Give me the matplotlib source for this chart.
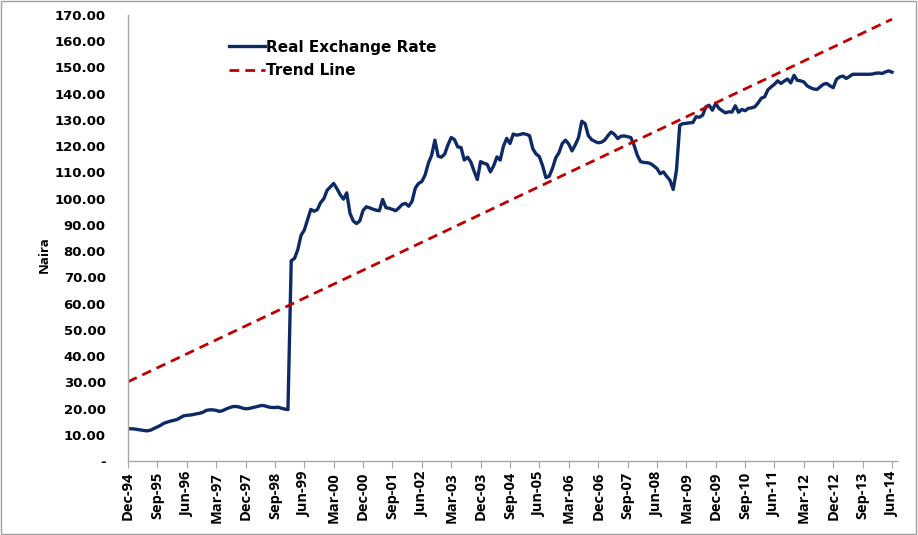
import matplotlib
matplotlib.use("Agg")
import matplotlib.pyplot as plt
from matplotlib.patches import Rectangle

# monthly real exchange rate, Dec-94 .. Jun-14 (naira)
real_rate = [
    12.3, 12.3, 12.2, 12.0, 11.8, 11.6, 11.5, 11.8, 12.4, 13.0,
    13.6, 14.4, 14.8, 15.2, 15.5, 15.8, 16.5, 17.2, 17.4, 17.5,
    17.7, 18.0, 18.2, 18.6, 19.3, 19.5, 19.5, 19.3, 18.9, 19.2,
    19.8, 20.3, 20.7, 20.8, 20.6, 20.2, 19.9, 20.0, 20.3, 20.6,
    20.9, 21.2, 21.0, 20.6, 20.4, 20.4, 20.5, 20.1, 19.8, 19.6,
    76.3, 77.2, 80.5, 86.0, 88.0, 92.0, 95.9, 95.2, 95.8, 98.5,
    100.0, 103.2, 104.5, 105.8, 103.8, 101.5, 99.8, 102.2, 94.4, 91.5,
    90.5, 91.5, 95.5, 96.9, 96.5, 96.0, 95.6, 95.4, 99.7, 96.6,
    96.3, 95.9, 95.4, 96.5, 97.8, 98.2, 97.1, 99.0, 104.0, 105.8,
    106.5, 109.0, 113.5, 116.5, 122.3, 116.2, 115.8, 117.0, 120.5, 123.3,
    122.5, 119.7, 119.5, 114.7, 115.8, 114.0, 110.5, 107.3, 114.1, 113.5,
    113.1, 110.2, 112.5, 115.9, 114.7, 120.0, 123.0, 121.0, 124.6, 124.2,
    124.4, 124.8, 124.5, 124.0, 119.0, 117.0, 116.0, 112.5, 108.0, 108.5,
    111.5, 115.5, 117.5, 121.0, 122.3, 120.8, 118.2, 120.5, 123.3, 129.5,
    128.6, 124.0, 122.5, 121.8, 121.3, 121.5, 122.3, 124.0, 125.4, 124.5,
    122.9, 123.8, 123.9, 123.6, 123.3, 120.4, 116.5, 114.1, 113.8, 113.7,
    113.4, 112.5, 111.5, 109.5, 110.2, 108.5, 107.0, 103.5, 110.9, 128.0,
    128.6, 128.7, 128.9, 129.0, 131.2, 131.0, 131.8, 135.0, 135.6, 133.7,
    136.3, 134.4, 133.5, 132.7, 133.1, 133.0, 135.4, 132.9, 134.0, 133.5,
    134.4, 134.6, 135.0, 136.5, 138.3, 138.8, 141.5, 142.6, 143.6, 144.9,
    143.9, 144.8, 145.6, 144.1, 147.0, 145.1, 144.9, 144.5, 143.0, 142.3,
    141.8, 141.6, 142.6, 143.6, 143.9, 143.0, 142.3, 145.5, 146.4, 146.7,
    145.8, 146.6, 147.4, 147.4, 147.4, 147.4, 147.4, 147.4, 147.5, 147.8,
    147.9, 147.7, 148.3, 148.7, 148.2,
]

# linear trend, value at first and last month
trend_ends = [30.2, 168.4]

month_names = ["Jan", "Feb", "Mar", "Apr", "May", "Jun",
               "Jul", "Aug", "Sep", "Oct", "Nov", "Dec"]
start_year, start_month = 1994, 12

y_ticks = list(range(0, 171, 10))


def month_label(i):
    m = start_month - 1 + i
    year = start_year + m // 12
    return f"{month_names[m % 12]}-{year % 100:02d}"


n = len(real_rate)
x = list(range(n))

fig = plt.figure(figsize=(9.18, 5.35), dpi=100)
ax = fig.add_axes([0.1394, 0.1383, 0.8376, 0.8337])

ax.plot(x, real_rate, color="#0E2A66", lw=2.4, label="Real Exchange Rate",
        solid_joinstyle="round")
ax.plot([0, n - 1], trend_ends, color="#C00000", lw=2.0, ls=(0, (3.5, 2.2)),
        label="Trend Line")

ax.set_xlim(0, n + 0.5)
ax.set_ylim(0, 170)

xt = list(range(0, n, 9))
ax.set_xticks(xt)
ax.set_xticklabels([month_label(i) for i in xt], rotation=90,
                   fontfamily="Open Sans", fontweight="bold", fontsize=10.5)
ax.set_yticks(y_ticks)
ax.set_yticklabels(["-" if v == 0 else f"{v:.2f}" for v in y_ticks],
                   fontfamily="DejaVu Sans", fontweight="bold", fontsize=9.5)
ax.tick_params(axis="y", length=0, pad=16)
ax.tick_params(axis="x", length=5, color="#A6A6A6", pad=3)

for side in ["top", "right"]:
    ax.spines[side].set_visible(False)
for side in ["left", "bottom"]:
    ax.spines[side].set_color("#A6A6A6")
    ax.spines[side].set_linewidth(1.0)

ax.set_ylabel("Naira", fontfamily="Open Sans", fontweight="bold", fontsize=9.5)
ax.yaxis.set_label_coords(-0.1, 0.462)

ax.legend(loc="upper left", bbox_to_anchor=(0.122, 0.962), frameon=False,
          borderpad=0, handlelength=2.3, handletextpad=0.1, labelspacing=0.55,
          prop={"family": "DejaVu Sans", "weight": "bold", "size": 11})

fig.patches.append(Rectangle((0.001, 0.001), 0.997, 0.997, transform=fig.transFigure,
                             fill=False, edgecolor="#A0A0A0", lw=1.0))

fig.savefig("out.png", dpi=100)
plt.close()
